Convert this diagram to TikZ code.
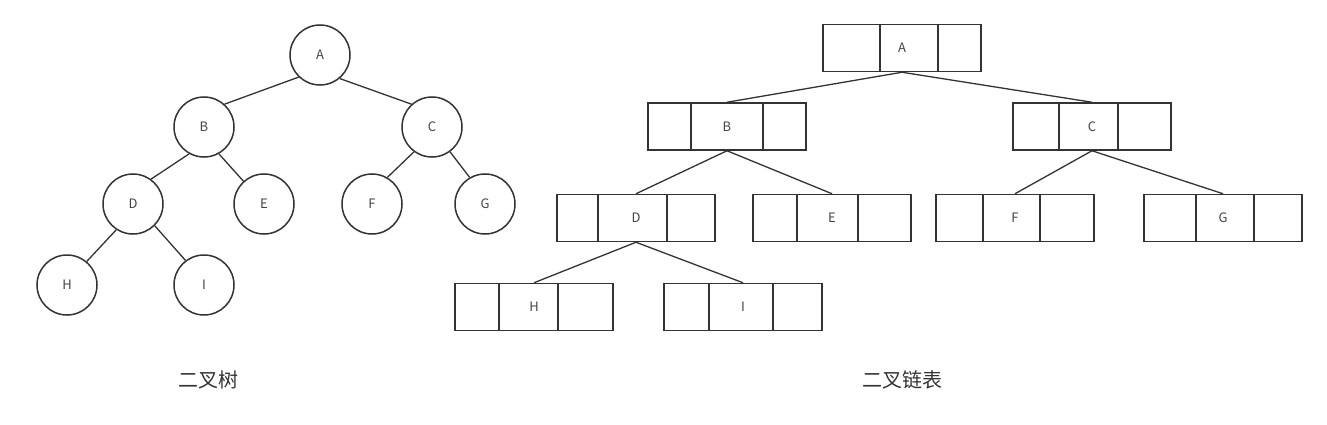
\documentclass[tikz,border=0pt]{standalone}
\usepackage{fontspec}
\setmainfont{Noto Sans CJK SC}
\definecolor{ln}{HTML}{333333}
\definecolor{tx}{HTML}{444444}
\begin{document}
\begin{tikzpicture}[x=1pt,y=-1pt,
  tnode/.style={circle,draw=ln,line width=1.5pt,minimum size=60pt,inner sep=0pt,font=\fontsize{13}{13}\selectfont,text=tx},
  lbox/.style={draw=ln,line width=1.5pt,minimum width=158pt,minimum height=47pt,inner sep=0pt,font=\fontsize{13}{13}\selectfont,text=tx},
  conn/.style={draw=ln,line width=1.3pt},
  captext/.style={font=\fontsize{20}{20}\selectfont,text=ln}]
\useasboundingbox (0,0) rectangle (1327,425);
% binary tree
\node[tnode] (tA) at (320,55) {A};
\node[tnode] (tB) at (204,127) {B};
\node[tnode] (tC) at (432,127) {C};
\node[tnode] (tD) at (133,204) {D};
\node[tnode] (tE) at (264,204) {E};
\node[tnode] (tF) at (372,204) {F};
\node[tnode] (tG) at (485,204) {G};
\node[tnode] (tH) at (67,285) {H};
\node[tnode] (tI) at (204,285) {I};
\draw[conn] (tA.226) -- (tB.48);
\draw[conn] (tA.310) -- (tC.132);
\draw[conn] (tB.241) -- (tD.54);
\draw[conn] (tB.299) -- (tE.132);
\draw[conn] (tC.234) -- (tF.60);
\draw[conn] (tC.306) -- (tG.120);
\draw[conn] (tD.237) -- (tH.50);
\draw[conn] (tD.315) -- (tI.127);
% linked list
\newcommand{\lbx}[6]{% name, cx, cy, leftdiv, rightdiv, label
  \node[lbox] (#1) at (#2,#3) {#6};
  \draw[ln,line width=1.5pt] (#4,#3-23.5) -- (#4,#3+23.5);
  \draw[ln,line width=1.5pt] (#5,#3-23.5) -- (#5,#3+23.5);}
\lbx{lA}{902}{48}{880}{938}{A}
\lbx{lB}{727}{126.5}{691}{763}{B}
\lbx{lC}{1092}{126.5}{1059}{1118}{C}
\lbx{lD}{636}{218}{598}{667}{D}
\lbx{lE}{832}{218}{797}{858}{E}
\lbx{lF}{1015}{218}{983}{1040}{F}
\lbx{lG}{1223}{218}{1196}{1254}{G}
\lbx{lH}{534}{307}{499}{558}{H}
\lbx{lI}{743}{307}{709}{773}{I}
\draw[conn] (lA.south) -- (lB.north);
\draw[conn] (lA.south) -- (lC.north);
\draw[conn] (lB.south) -- (lD.north);
\draw[conn] (lB.south) -- (lE.north);
\draw[conn] (lC.south) -- (lF.north);
\draw[conn] (lC.south) -- (lG.north);
\draw[conn] (lD.south) -- (lH.north);
\draw[conn] (lD.south) -- (lI.north);
\node[captext] (c1) at (208,380) {二叉树};
\node[captext] (c2) at (902,380) {二叉链表};
\end{tikzpicture}
\end{document}
